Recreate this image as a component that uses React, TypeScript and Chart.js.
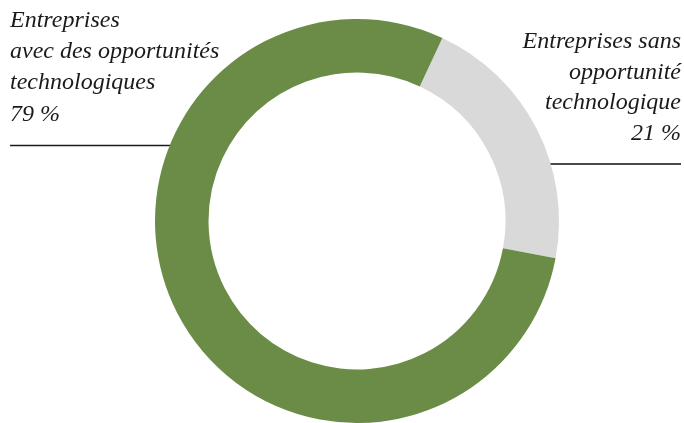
import React, { useEffect, useRef } from "react";
import { Chart, registerables } from "chart.js";

Chart.register(...registerables);

const categories = ["Entreprises sans opportunité technologique", "Entreprises avec des opportunités technologiques"];
const values = [21, 79];
const colors = ["#d9d9d9", "#6b8c46"];
const leftLabel = ["Entreprises", "avec des opportunités", "technologiques", "79 %"];
const rightLabel = ["Entreprises sans", "opportunité", "technologique", "21 %"];

const labelPlugin = {
  id: "sideLabels",
  beforeDatasetsDraw(chart: any) {
    const ctx = chart.ctx;
    ctx.save();
    ctx.lineWidth = 1.3;
    ctx.strokeStyle = "#1a1a1a";
    ctx.beginPath();
    ctx.moveTo(10, 145.5);
    ctx.lineTo(200, 145.5);
    ctx.stroke();
    ctx.lineWidth = 2;
    ctx.strokeStyle = "#4a4a4a";
    ctx.beginPath();
    ctx.moveTo(520, 164);
    ctx.lineTo(681, 164);
    ctx.stroke();
    ctx.restore();
  },
  afterDraw(chart: any) {
    const ctx = chart.ctx;
    ctx.save();
    ctx.fillStyle = "#1a1a1a";
    ctx.font = "italic 24px 'Liberation Serif', serif";
    ctx.textBaseline = "middle";
    ctx.textAlign = "left";
    const lys = [21, 52, 83, 115];
    leftLabel.forEach((t, i) => ctx.fillText(t, 10, lys[i]));
    ctx.textAlign = "right";
    const rys = [42, 73, 103, 134];
    rightLabel.forEach((t, i) => ctx.fillText(t, 681, rys[i]));
    ctx.restore();
  },
};

export default function App() {
  const ref = useRef<HTMLCanvasElement>(null);
  useEffect(() => {
    document.body.style.margin = "0";
    const chart = new Chart(ref.current!, {
      type: "doughnut",
      data: {
        labels: categories,
        datasets: [
          {
            data: values,
            backgroundColor: colors,
            borderWidth: 0,
          },
        ],
      },
      options: {
        animation: false,
        responsive: false,
        rotation: 25,
        cutout: "73.5%",
        layout: { padding: { left: 155, right: 125, top: 19, bottom: 0 } },
        plugins: { legend: { display: false }, tooltip: { enabled: false } },
      },
      plugins: [labelPlugin],
    });
    return () => chart.destroy();
  }, []);
  return <canvas ref={ref} width={684} height={423} style={{ display: "block" }} />;
}
